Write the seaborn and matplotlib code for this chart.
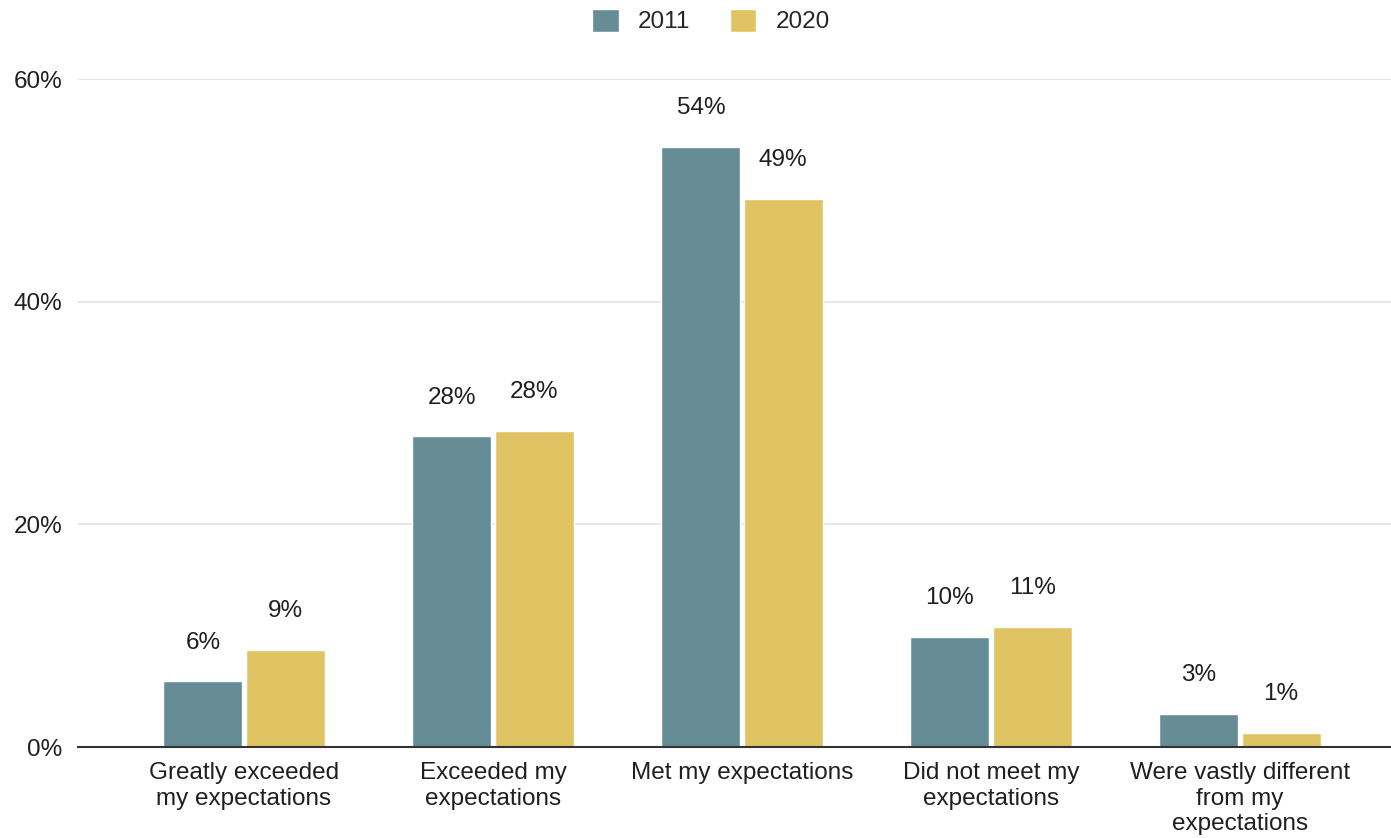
import matplotlib
matplotlib.use("Agg")
import matplotlib.pyplot as plt
import seaborn as sns
import pandas as pd

categories = [
    "Greatly exceeded\nmy expectations",
    "Exceeded my\nexpectations",
    "Met my expectations",
    "Did not meet my\nexpectations",
    "Were vastly different\nfrom my\nexpectations",
]
years = ["2011", "2020"]
values_2011 = [5.9, 27.9, 53.9, 9.9, 3.0]
values_2020 = [8.7, 28.4, 49.2, 10.8, 1.3]
y_ticks = [0, 20, 40, 60]

colors = {"2011": "#668c96", "2020": "#e0c463"}
text_color = "#1f1f1f"
fs = 17.5

df = pd.DataFrame({
    "category": categories * 2,
    "year": [years[0]] * len(categories) + [years[1]] * len(categories),
    "value": values_2011 + values_2020,
})

sns.set_theme(style="white")
plt.rcParams["font.family"] = ["Liberation Sans", "DejaVu Sans"]

fig = plt.figure(figsize=(13.91, 8.38), dpi=100)
ax = fig.add_axes([78 / 1391, 1 - 747 / 838, 1 - 78 / 1391, (747 - 79) / 838])

sns.barplot(data=df, x="category", y="value", hue="year", order=categories,
            hue_order=years, palette=colors, width=0.66, gap=0.04,
            saturation=1, ax=ax, legend=True, zorder=3)

ax.set_ylim(0, 60)
ax.set_xlim((78 - 244) / 249, (1391 - 244) / 249)
ax.set_yticks(y_ticks)
ax.set_yticklabels([f"{t}%" for t in y_ticks], fontsize=fs, color=text_color)
ax.tick_params(axis="y", length=0, pad=11)
ax.tick_params(axis="x", length=0, pad=11, labelsize=fs, labelcolor=text_color)
for lbl in ax.get_xticklabels():
    lbl.set_linespacing(1.2)
ax.yaxis.grid(True, color="#e3e3e3", linewidth=1.2, zorder=0)
ax.set_axisbelow(True)
for side in ["left", "right", "top"]:
    ax.spines[side].set_visible(False)
ax.spines["bottom"].set_color("#333333")
ax.spines["bottom"].set_linewidth(1.5)
ax.spines["bottom"].set_zorder(5)
ax.set_xlabel("")
ax.set_ylabel("")

for container in ax.containers:
    labels = [f"{bar.get_height():.0f}%" for bar in container]
    ax.bar_label(container, labels=labels, padding=20, fontsize=fs, color=text_color)

handles, labels = ax.get_legend_handles_labels()
ax.legend_.remove()
fig.legend(handles, labels, loc="center", bbox_to_anchor=(711 / 1391, 1 - 21 / 838),
           ncol=2, frameon=False, fontsize=fs, handlelength=1.1, handleheight=1.1,
           columnspacing=1.6, handletextpad=0.8)

fig.savefig("out.png", dpi=100, facecolor="white")
